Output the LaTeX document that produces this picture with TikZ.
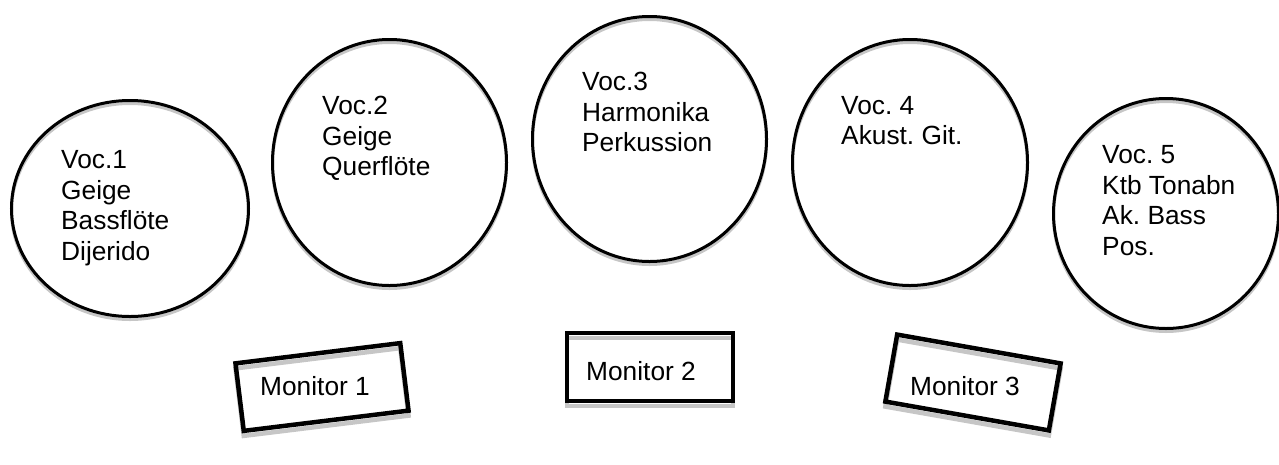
\documentclass[tikz,border=0pt]{standalone}
\usepackage{fontspec}
\setmainfont{Liberation Sans}
\usetikzlibrary{shapes.geometric}
\frenchspacing

\tikzset{
  stage/.style={ellipse, draw=black, line width=3pt, inner sep=0pt},
  stageshadow/.style={ellipse, draw=gray!45, line width=3pt, inner sep=0pt},
  monbox/.style={rectangle, draw=black, line width=4.5pt, inner sep=0pt,
                 minimum width=166pt, minimum height=68pt},
  monshadow/.style={rectangle, draw=gray!45, line width=4.5pt, inner sep=0pt,
                 minimum width=166pt, minimum height=68pt},
  lbl/.style={font=\fontsize{26.3}{30.5}\selectfont, inner sep=0pt,
              align=left, anchor=north west},
  monlbl/.style={font=\fontsize{26.3}{30.5}\selectfont, inner sep=0pt,
              anchor=base west}
}

\begin{document}
\begin{tikzpicture}[x=1pt, y=-1pt]
  \useasboundingbox (0,0) rectangle (1279,464);
  \clip (0,0) rectangle (1279,464);

  % shadows of the singer positions
  \node[stageshadow, minimum width=237pt, minimum height=216pt] at (130,211.5) {};
  \node[stageshadow, minimum width=234pt, minimum height=246pt] at (389.5,165.5) {};
  \node[stageshadow, minimum width=234pt, minimum height=245pt] at (649.5,142) {};
  \node[stageshadow, minimum width=235pt, minimum height=246pt] at (910,165.5) {};
  \node[stageshadow, minimum width=225pt, minimum height=230pt] at (1166,216.5) {};

  % singer positions
  \node[stage, minimum width=237pt, minimum height=216pt] (v1) at (130,208.5) {};
  \node[stage, minimum width=234pt, minimum height=246pt] (v2) at (389.5,162.5) {};
  \node[stage, minimum width=234pt, minimum height=245pt] (v3) at (649.5,139) {};
  \node[stage, minimum width=235pt, minimum height=246pt] (v4) at (910,162.5) {};
  \node[stage, minimum width=225pt, minimum height=230pt] (v5) at (1166,213.5) {};

  \node[lbl] (t1) at (61,150.2) {Voc.1\\Geige\\Bassflöte\\Dijerido};
  \node[lbl] (t2) at (322,96.2) {Voc.2\\Geige\\Querflöte};
  \node[lbl] (t3) at (582,72.2) {Voc.3\\Harmonika\\Perkussion};
  \node[lbl] (t4) at (841,96.2) {Voc. 4\\Akust. Git.};
  \node[lbl] (t5) at (1102,145.2) {Voc. 5\\Ktb Tonabn\\Ak. Bass\\Pos.};

  % monitor wedges
  \node[monshadow, rotate=7] at (322,392) {};
  \node[monshadow] at (650,372) {};
  \node[monshadow, rotate=-10] at (973,387.5) {};

  \node[monbox, rotate=7] (m1) at (322,387) {};
  \node[monbox] (m2) at (650,367) {};
  \node[monbox, rotate=-10] (m3) at (973,382.5) {};

  \node[monlbl] (ml1) at (260,395) {Monitor 1};
  \node[monlbl] (ml2) at (586,380) {Monitor 2};
  \node[monlbl] (ml3) at (910,395) {Monitor 3};
\end{tikzpicture}
\end{document}
